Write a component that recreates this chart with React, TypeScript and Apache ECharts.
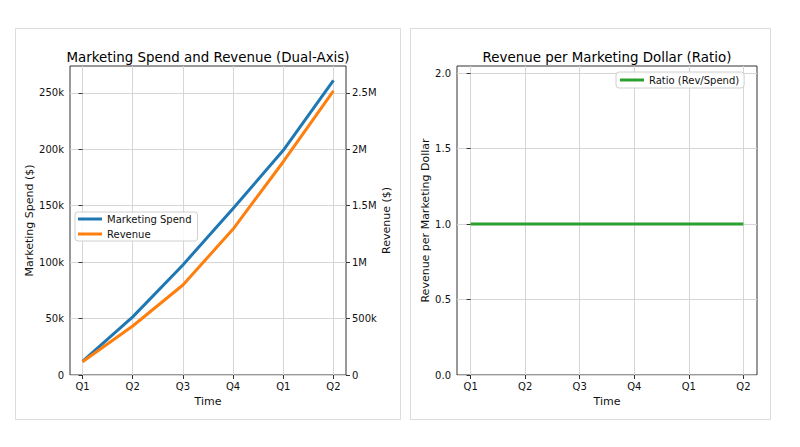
import { useEffect, useRef } from 'react';
import * as echarts from 'echarts';

const quarters = ['Q1', 'Q2', 'Q3', 'Q4', 'Q1', 'Q2'];
const marketingSpend = [12000, 51500, 97500, 147500, 199000, 261000];
const revenue = [118000, 434000, 797000, 1293000, 1889000, 2517000];
const ratio = [1.0, 1.0, 1.0, 1.0, 1.0, 1.0];
const spendTicks = [0, 50000, 100000, 150000, 200000, 250000];
const revenueTicks = [0, 500000, 1000000, 1500000, 2000000, 2500000];
const ratioTicks = [0, 0.5, 1.0, 1.5, 2.0];

const FONT = '"DejaVu Sans", sans-serif';
const GRID_LINE = '#d6d6d6';
const AXIS_DARK = '#333';
const TEXT = '#111';
const TICK_FS = 10;
const NAME_FS = 11;

const kFmt = (v: number) => (v === 0 ? '0' : `${v / 1000}k`);
const revFmt = (v: number) => {
    if (v === 0) return '0';
    if (v >= 1000000) return `${v / 1000000}M`;
    return `${v / 1000}k`;
};

const idx = quarters.map((_, i) => i);

const xAxisBase = (gridIndex: number) => ({
    type: 'value' as const,
    gridIndex,
    min: -0.25,
    max: 5.25,
    name: 'Time',
    nameLocation: 'middle' as const,
    nameGap: 19,
    nameTextStyle: { fontFamily: FONT, fontSize: NAME_FS, color: TEXT },
    axisLine: { show: false },
    axisTick: { show: true, length: 4, customValues: idx, lineStyle: { color: AXIS_DARK } },
    axisLabel: {
        customValues: idx,
        fontFamily: FONT,
        fontSize: TICK_FS,
        color: TEXT,
        margin: 6,
        formatter: (v: number) => quarters[Math.round(v)] ?? ''
    },
    splitLine: { show: true, lineStyle: { color: GRID_LINE, width: 1 } }
});

const App = () => {
    const chartRef = useRef<HTMLDivElement>(null);

    useEffect(() => {
        if (!chartRef.current) return;
        const chart = echarts.init(chartRef.current, undefined, { renderer: 'svg' });

        const option: echarts.EChartsCoreOption = {
            animation: false,
            backgroundColor: '#fff',
            textStyle: { fontFamily: FONT },
            grid: [
                { left: 70, top: 66, width: 276, height: 309, show: true, borderColor: AXIS_DARK, borderWidth: 1, backgroundColor: 'transparent' },
                { left: 457, top: 66, width: 300, height: 309, show: true, borderColor: AXIS_DARK, borderWidth: 1, backgroundColor: 'transparent' }
            ],
            xAxis: [xAxisBase(0), xAxisBase(1)],
            yAxis: [
                {
                    type: 'value',
                    gridIndex: 0,
                    min: 0,
                    max: 273700,
                    name: 'Marketing Spend ($)',
                    nameLocation: 'middle',
                    nameGap: 34,
                    nameTextStyle: { fontFamily: FONT, fontSize: NAME_FS, color: TEXT },
                    axisLine: { show: false },
                    axisTick: { show: true, length: 4, customValues: spendTicks, lineStyle: { color: AXIS_DARK } },
                    axisLabel: { customValues: spendTicks, fontFamily: FONT, fontSize: TICK_FS, color: TEXT, margin: 6, formatter: kFmt },
                    splitLine: { show: true, lineStyle: { color: GRID_LINE, width: 1 } }
                },
                {
                    type: 'value',
                    gridIndex: 0,
                    position: 'right',
                    min: 0,
                    max: 2737000,
                    name: 'Revenue ($)',
                    nameLocation: 'middle',
                    nameGap: 33,
                    nameTextStyle: { fontFamily: FONT, fontSize: NAME_FS, color: TEXT },
                    axisLine: { show: false },
                    axisTick: { show: true, length: 4, customValues: revenueTicks, lineStyle: { color: AXIS_DARK } },
                    axisLabel: { customValues: revenueTicks, fontFamily: FONT, fontSize: TICK_FS, color: TEXT, margin: 6, formatter: revFmt },
                    splitLine: { show: false }
                },
                {
                    type: 'value',
                    gridIndex: 1,
                    min: 0,
                    max: 2.048,
                    name: 'Revenue per Marketing Dollar',
                    nameLocation: 'middle',
                    nameGap: 26,
                    nameTextStyle: { fontFamily: FONT, fontSize: NAME_FS, color: TEXT },
                    axisLine: { show: false },
                    axisTick: { show: true, length: 4, customValues: ratioTicks, lineStyle: { color: AXIS_DARK } },
                    axisLabel: {
                        customValues: ratioTicks,
                        fontFamily: FONT,
                        fontSize: TICK_FS,
                        color: TEXT,
                        margin: 6,
                        formatter: (v: number) => v.toFixed(1)
                    },
                    splitLine: { show: true, lineStyle: { color: GRID_LINE, width: 1 } }
                }
            ],
            legend: [
                {
                    data: ['Marketing Spend', 'Revenue'],
                    orient: 'vertical',
                    left: 75,
                    top: 212,
                    icon: 'rect',
                    itemWidth: 24,
                    itemHeight: 3,
                    itemGap: 5,
                    padding: [2, 6, 2, 3],
                    backgroundColor: 'rgba(255,255,255,0.85)',
                    borderColor: '#d0d0d0',
                    borderWidth: 1,
                    borderRadius: 3,
                    textStyle: { fontFamily: FONT, fontSize: TICK_FS, color: TEXT }
                },
                {
                    data: ['Ratio (Rev/Spend)'],
                    orient: 'vertical',
                    left: 616,
                    top: 72,
                    icon: 'rect',
                    itemWidth: 24,
                    itemHeight: 3,
                    padding: [3, 5, 3, 4],
                    backgroundColor: 'rgba(255,255,255,0.85)',
                    borderColor: '#d0d0d0',
                    borderWidth: 1,
                    borderRadius: 3,
                    textStyle: { fontFamily: FONT, fontSize: TICK_FS, color: TEXT }
                }
            ],
            series: [
                {
                    name: 'Marketing Spend',
                    type: 'line',
                    xAxisIndex: 0,
                    yAxisIndex: 0,
                    data: marketingSpend.map((v, i) => [i, v]),
                    showSymbol: false,
                    color: '#1f77b4',
                    lineStyle: { width: 3, color: '#1f77b4' }
                },
                {
                    name: 'Revenue',
                    type: 'line',
                    xAxisIndex: 0,
                    yAxisIndex: 1,
                    data: revenue.map((v, i) => [i, v]),
                    showSymbol: false,
                    color: '#ff7f0e',
                    lineStyle: { width: 3, color: '#ff7f0e' }
                },
                {
                    name: 'Ratio (Rev/Spend)',
                    type: 'line',
                    xAxisIndex: 1,
                    yAxisIndex: 2,
                    data: ratio.map((v, i) => [i, v]),
                    showSymbol: false,
                    color: '#2ca02c',
                    lineStyle: { width: 3, color: '#2ca02c' }
                }
            ],
            graphic: [
                { type: 'rect', z: -1, shape: { x: 15.5, y: 28.5, width: 385, height: 391 }, style: { fill: '#fff', stroke: '#dcdcdc', lineWidth: 1 } },
                { type: 'rect', z: -1, shape: { x: 410.5, y: 28.5, width: 360, height: 391 }, style: { fill: '#fff', stroke: '#dcdcdc', lineWidth: 1 } },
                {
                    type: 'text',
                    x: 208,
                    y: 57,
                    style: { text: 'Marketing Spend and Revenue (Dual-Axis)', fontFamily: FONT, fontSize: 13.4, fill: '#000', textAlign: 'center', textVerticalAlign: 'middle' }
                },
                {
                    type: 'text',
                    x: 607,
                    y: 57,
                    style: { text: 'Revenue per Marketing Dollar (Ratio)', fontFamily: FONT, fontSize: 13.4, fill: '#000', textAlign: 'center', textVerticalAlign: 'middle' }
                }
            ]
        };

        chart.setOption(option);
        return () => chart.dispose();
    }, []);

    return (
        <div
            ref={chartRef}
            style={{ position: 'fixed', left: 0, top: 0, width: '800px', height: '447px', background: '#fff' }}
        />
    );
};

export default App;
